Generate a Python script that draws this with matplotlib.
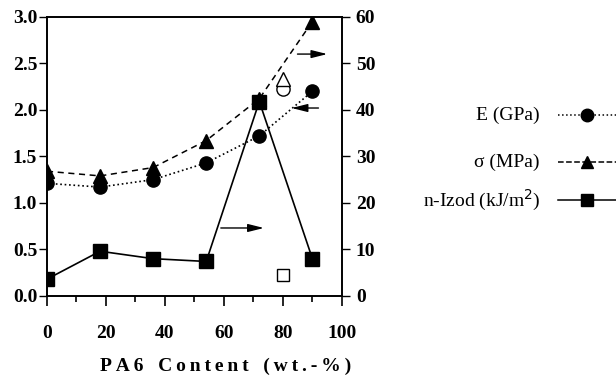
import matplotlib
matplotlib.use('Agg')
import matplotlib.pyplot as plt
from matplotlib.lines import Line2D

plt.rcParams['font.family'] = 'Liberation Serif'

# data
pa6 = [0, 18, 36, 54, 72, 90]
modulus = [1.21, 1.17, 1.25, 1.43, 1.72, 2.20]        # E (GPa), left axis
strength = [26.8, 25.8, 27.6, 33.4, 42.4, 59.0]       # sigma (MPa), right axis
izod = [3.6, 9.6, 8.0, 7.4, 41.8, 8.0]                # n-Izod (kJ/m2), right axis
# open symbols at 80 wt.-%
open_x = 80
open_modulus = 2.22
open_strength = 46.6
open_izod = 4.4

fig = plt.figure(figsize=(6.16, 3.75), dpi=100)
ax = fig.add_axes([0.0763, 0.211, 0.4787, 0.744])
ax2 = ax.twinx()

ax.plot(pa6, modulus, ':', color='black', lw=1.2, marker='o', ms=9.5, mfc='black')
ax.plot(open_x, open_modulus, 'o', ms=9.5, mfc='white', mec='black', mew=1.0)
ax2.plot(pa6, strength, '--', color='black', lw=1.1, marker='^', ms=10, mfc='black', dashes=(4, 3))
ax2.plot(open_x, open_strength, '^', ms=10, mfc='white', mec='black', mew=1.0)
ax2.plot(pa6, izod, '-', color='black', lw=1.2, marker='s', ms=10, mfc='black')
ax2.plot(open_x, open_izod, 's', ms=9, mfc='white', mec='black', mew=1.0)

# arrows showing which axis each curve belongs to
arrow = dict(arrowstyle='-|>,head_length=0.8,head_width=0.2', color='black', lw=1.0, mutation_scale=12)
ax.annotate('', xy=(96, 2.6), xytext=(84, 2.6), arrowprops=arrow)
ax.annotate('', xy=(82, 2.02), xytext=(93, 2.02), arrowprops=arrow)
ax.annotate('', xy=(74.5, 0.73), xytext=(58, 0.73), arrowprops=arrow)

ax.set_xlim(0, 100)
ax.set_ylim(0, 3.0)
ax2.set_ylim(0, 60)
ax.set_xticks([0, 20, 40, 60, 80, 100])
ax.set_xticks([10, 30, 50, 70, 90], minor=True)
ax.set_yticks([0, 0.5, 1.0, 1.5, 2.0, 2.5, 3.0])
ax.set_yticklabels(['0.0', '0.5', '1.0', '1.5', '2.0', '2.5', '3.0'])
ax2.set_yticks([0, 10, 20, 30, 40, 50, 60])

ax.tick_params(axis='x', which='major', direction='out', length=7, width=1.2, pad=14, labelsize=14)
ax.tick_params(axis='x', which='minor', direction='out', length=4, width=1.2)
ax.tick_params(axis='y', direction='out', length=6, width=1.0, pad=1, labelsize=14)
ax2.tick_params(axis='y', direction='out', length=6, width=1.0, pad=4, labelsize=14)
for lab in ax.get_xticklabels() + ax.get_yticklabels() + ax2.get_yticklabels():
    lab.set_fontweight('bold')
for a in (ax, ax2):
    for s in a.spines.values():
        s.set_linewidth(1.2)

# x label, slightly letter-spaced and set a bit right of the axes centre as in the original
ts = '\u2009'
xlabel = '   '.join(ts.join(w) for w in ['PA6', 'Content', '(wt.-%)'])
fig.text(226 / 616, 1 - 366 / 375, xlabel, ha='center', va='center', fontsize=14, fontweight='bold')

# legend drawn by hand on the right
rows = [('E (GPa)', ':', 'o', 115),
        ('σ (MPa)', '--', '^', 162),
        ('n-Izod (kJ/m$^2$)', '-', 's', 200)]
for label, ls, mk, ypix in rows:
    yf = 1 - ypix / 375
    fig.text(540 / 616, yf, label, ha='right', va='center', fontsize=14)
    fig.add_artist(Line2D([558 / 616, 616 / 616], [yf, yf], ls=ls, color='black', lw=1.1,
                          transform=fig.transFigure))
    fig.add_artist(Line2D([587 / 616], [yf], marker=mk, ms=9, color='black', mfc='black',
                          transform=fig.transFigure))

fig.savefig('out.png', dpi=100)
